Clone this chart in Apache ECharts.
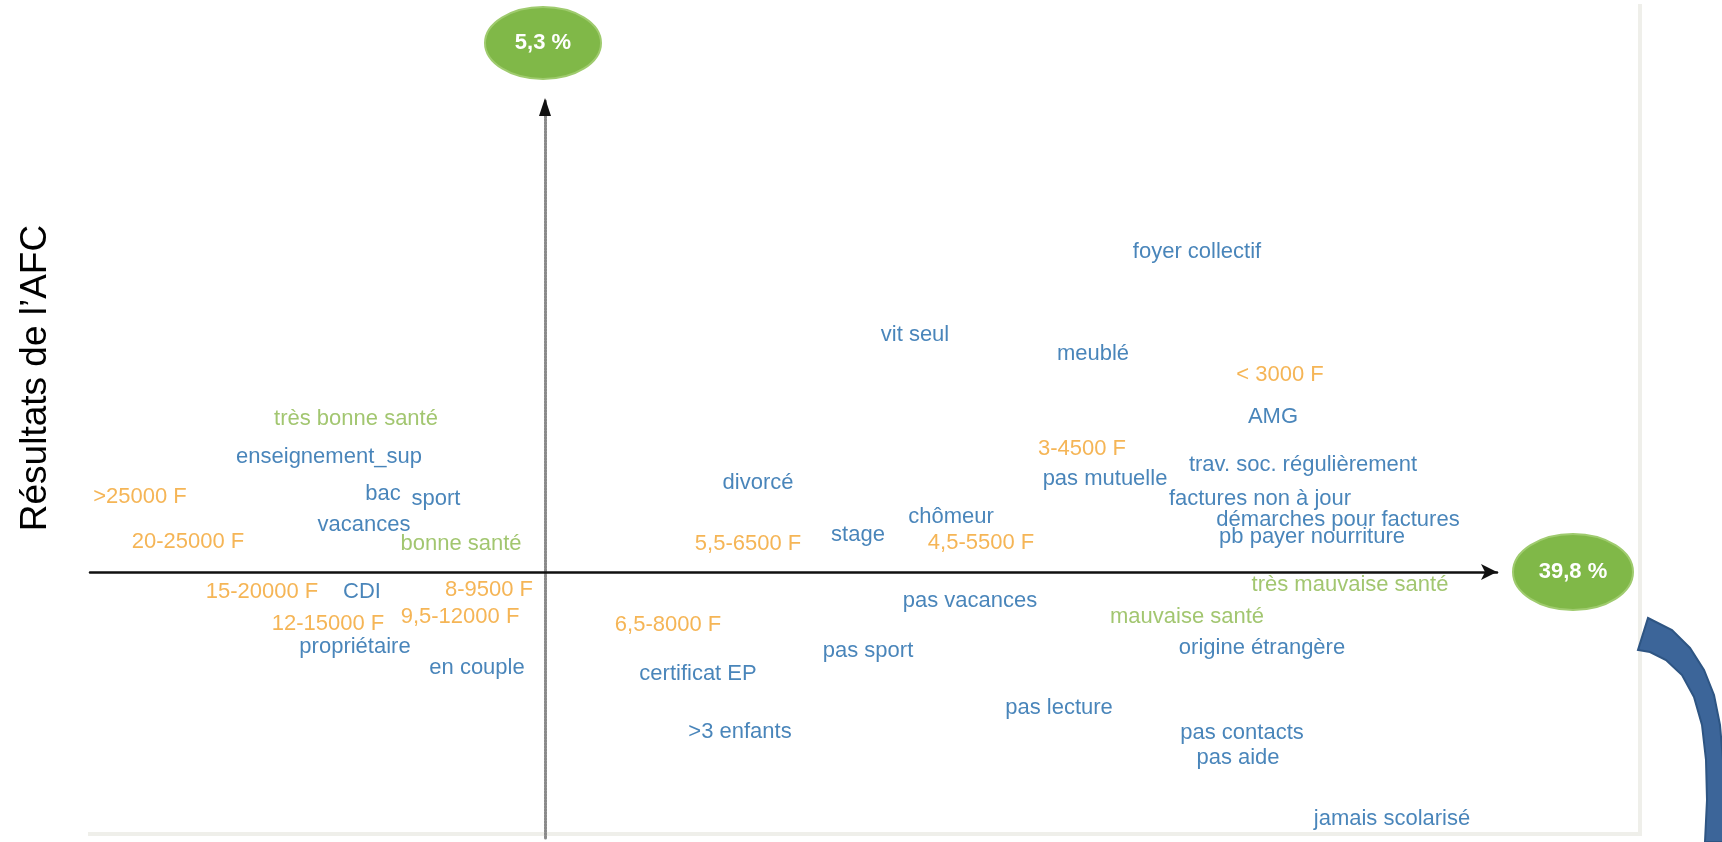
<!DOCTYPE html>
<html lang="fr">
<head>
	<meta charset="UTF-8">
	<title>Résultats de l'AFC</title>
	<script src="https://cdn.jsdelivr.net/npm/echarts/dist/echarts.min.js"></script>
	<style>
		html, body { margin: 0; padding: 0; background: #fff; }
		#main { width: 1722px; height: 842px; }
	</style>
</head>
<body>
	<div id="main"></div>
	<script type="text/javascript">

		// modalités "situation" (bleu)
		var situNoms = ['foyer collectif', 'vit seul', 'meublé', 'AMG', 'trav. soc. régulièrement',
			'pas mutuelle', 'factures non à jour', 'démarches pour factures', 'pb payer nourriture',
			'divorcé', 'chômeur', 'stage', 'enseignement_sup', 'bac', 'sport', 'vacances', 'CDI',
			'propriétaire', 'en couple', 'pas vacances', 'pas sport', 'certificat EP', '>3 enfants',
			'pas lecture', 'origine étrangère', 'pas contacts', 'pas aide', 'jamais scolarisé'];
		var situX = [1.304, 0.740, 1.096, 1.456, 1.516, 1.120, 1.430, 1.586, 1.534,
			0.426, 0.812, 0.626, -0.432, -0.324, -0.218, -0.362, -0.366,
			-0.380, -0.136, 0.850, 0.646, 0.306, 0.390,
			1.028, 1.434, 1.394, 1.386, 1.694];
		var situY = [0.640, 0.474, 0.436, 0.310, 0.214, 0.186, 0.146, 0.104, 0.070,
			0.178, 0.110, 0.074, 0.230, 0.156, 0.146, 0.094, -0.040,
			-0.150, -0.192, -0.058, -0.158, -0.204, -0.320,
			-0.272, -0.152, -0.322, -0.372, -0.494];

		// tranches de revenu (orange)
		var revenuNoms = ['< 3000 F', '3-4500 F', '4,5-5500 F', '5,5-6500 F', '6,5-8000 F', '8-9500 F',
			'9,5-12000 F', '12-15000 F', '15-20000 F', '20-25000 F', '>25000 F'];
		var revenuX = [1.470, 1.074, 0.872, 0.406, 0.246, -0.112, -0.170, -0.434, -0.566, -0.714, -0.810];
		var revenuY = [0.394, 0.246, 0.058, 0.056, -0.106, -0.036, -0.090, -0.104, -0.040, 0.060, 0.150];

		// état de santé (vert)
		var santeNoms = ['très bonne santé', 'bonne santé', 'mauvaise santé', 'très mauvaise santé'];
		var santeX = [-0.378, -0.168, 1.284, 1.610];
		var santeY = [0.306, 0.056, -0.090, -0.026];

		// inertie des axes
		var axe1 = '39,8 %';
		var axe2 = '5,3 %';

		var xMin = -0.91, xMax = 1.904;
		var yMin = -0.532, yMax = 0.944;

		function points(noms, xs, ys) {
			var out = [];
			for (var i = 0; i < noms.length; i++) {
				out.push({ name: noms[i], value: [xs[i], ys[i]] });
			}
			return out;
		}

		function serie(nom, data, couleur) {
			return {
				name: nom,
				type: 'scatter',
				data: data,
				symbolSize: 0.01,
				silent: true,
				label: {
					show: true,
					position: 'inside',
					formatter: '{b}',
					color: couleur,
					fontSize: 22,
					fontFamily: 'Liberation Sans, Arial, sans-serif'
				}
			};
		}

		var myChart = echarts.init(document.getElementById('main'));

		var option = {
			animation: false,
			backgroundColor: '#fff',
			grid: { left: 90, right: 225, top: 100, bottom: 4, containLabel: false },
			xAxis: {
				type: 'value',
				min: xMin,
				max: xMax,
				axisLine: {
					onZero: true,
					symbol: ['none', 'arrow'],
					symbolSize: [12, 16],
					lineStyle: { color: '#111', width: 2.5 }
				},
				axisTick: { show: false },
				axisLabel: { show: false },
				splitLine: { show: false }
			},
			yAxis: {
				type: 'value',
				min: yMin,
				max: yMax,
				axisLine: {
					onZero: true,
					symbol: ['none', 'none'],
					lineStyle: { color: '#8a8a8a', width: 3, type: [2, 1] }
				},
				axisTick: { show: false },
				axisLabel: { show: false },
				splitLine: { show: false }
			},
			series: [
				serie('situation', points(situNoms, situX, situY), '#1b67a9'),
				serie('revenu', points(revenuNoms, revenuX, revenuY), '#f2a22c'),
				serie('santé', points(santeNoms, santeX, santeY), '#8bb84c')
			]
		};

		myChart.setOption(option, true);

		// bulles vertes au bout des axes + décor
		var pX = myChart.convertToPixel({ gridIndex: 0 }, [xMax, 0]);
		var pY = myChart.convertToPixel({ gridIndex: 0 }, [0, yMax]);

		function bulle(cx, cy, rx, ry, texte) {
			return {
				type: 'group',
				children: [
					{ type: 'ellipse', shape: { cx: cx, cy: cy, rx: rx, ry: ry },
						style: { fill: '#80b848', stroke: '#9fcb6e', lineWidth: 2 } },
					{ type: 'text', x: cx, y: cy,
						style: { text: texte, fill: '#fff', font: 'bold 22px Liberation Sans, Arial, sans-serif',
							textAlign: 'center', textVerticalAlign: 'middle' } }
				]
			};
		}

		myChart.setOption({
			graphic: [
				// bord droit et bas du cadre
				{ type: 'polyline', z: -10, shape: { points: [[1640, 4], [1640, 834], [88, 834]] },
					style: { stroke: '#efefea', lineWidth: 4, fill: null } },
				// pointe noire de l'axe vertical
				{ type: 'polygon', z: 10,
					shape: { points: [[pY[0], pY[1] - 2], [pY[0] - 6, pY[1] + 16], [pY[0] + 6, pY[1] + 16]] },
					style: { fill: '#111' } },
				bulle(pX[0] + 76, pX[1], 60, 38, axe1),
				bulle(pY[0] - 2, pY[1] - 57, 58, 36, axe2),
				{ type: 'text', x: 36, y: 378, rotation: Math.PI / 2,
					style: { text: 'Résultats de l\u2019AFC', fill: '#000',
						font: '37px Liberation Sans, Arial, sans-serif',
						textAlign: 'center', textVerticalAlign: 'middle' } },
				{ type: 'polygon',
					shape: { points: [[1648, 618], [1672, 630], [1690, 648], [1704, 670], [1714, 695],
						[1720, 725], [1723, 760], [1724, 800], [1724, 842], [1705, 842], [1707, 800],
						[1706, 760], [1702, 725], [1694, 697], [1682, 675], [1666, 660], [1650, 652], [1638, 650]] },
					style: { fill: '#3c6599', stroke: '#2e5583', lineWidth: 2 } }
			]
		});
	</script>
</body>
</html>
